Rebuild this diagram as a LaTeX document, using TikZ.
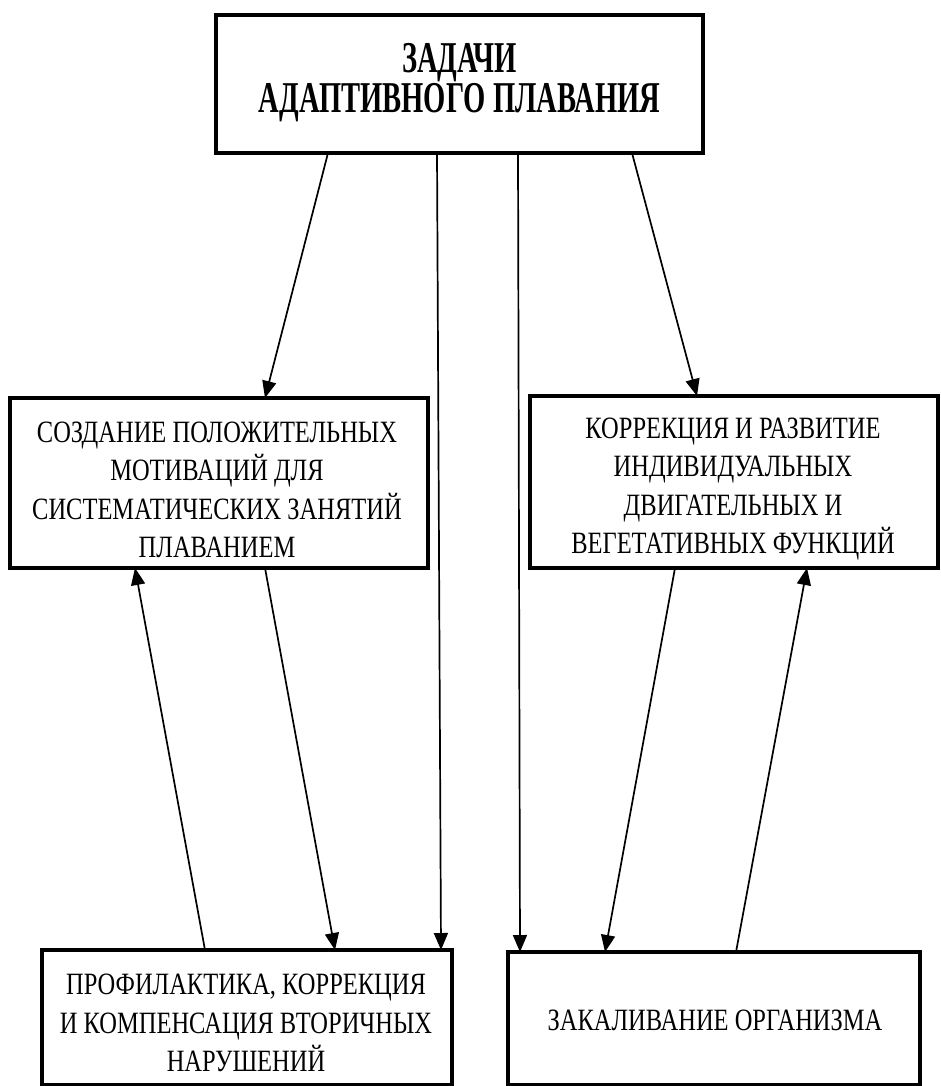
\documentclass[tikz,border=0pt]{standalone}
\usepackage{fontspec}
\setmainfont{Liberation Serif}
\newfontfamily\regfont[FakeStretch=0.79]{Liberation Serif}
\newfontfamily\topfont[FakeStretch=0.65]{Liberation Serif}
\usetikzlibrary{arrows.meta,calc}
\begin{document}
\begin{tikzpicture}[x=1pt,y=-1pt,
  box/.style={draw,line width=3.5pt,rectangle,inner sep=0pt,outer sep=0pt},
  txt/.style={align=center,inner sep=0pt,font=\regfont\fontsize{31}{38.3}\selectfont},
  toptxt/.style={align=center,inner sep=0pt,font=\topfont\bfseries\fontsize{44}{40}\selectfont},
  arr/.style={line width=1.7pt,-{Triangle[length=17pt,width=14pt]}},
  ln/.style={line width=1.7pt}]
\useasboundingbox (0,0) rectangle (940,1086);
\fill[white] (0,0) rectangle (940,1086);
% boxes
\node[box,minimum width=487pt,minimum height=138pt] (top) at (459.5,84) {};
\node[box,minimum width=418pt,minimum height=170pt] (ml) at (219,483) {};
\node[box,minimum width=408pt,minimum height=172pt] (mr) at (734,482) {};
\node[box,minimum width=410pt,minimum height=135pt] (bl) at (247,1017.5) {};
\node[box,minimum width=412pt,minimum height=133pt] (br) at (714,1018.5) {};
% texts
\node[toptxt] (toptext) at (459.5,83) {ЗАДАЧИ\\АДАПТИВНОГО ПЛАВАНИЯ};
\node[txt] (mltext) at (217,490) {СОЗДАНИЕ ПОЛОЖИТЕЛЬНЫХ\\МОТИВАЦИЙ ДЛЯ\\СИСТЕМАТИЧЕСКИХ ЗАНЯТИЙ\\ПЛАВАНИЕМ};
\node[txt] (mrtext) at (733,489) {КОРРЕКЦИЯ И РАЗВИТИЕ\\ИНДИВИДУАЛЬНЫХ\\ДВИГАТЕЛЬНЫХ И\\ВЕГЕТАТИВНЫХ ФУНКЦИЙ};
\node[txt] (bltext) at (246,1023) {ПРОФИЛАКТИКА, КОРРЕКЦИЯ\\И КОМПЕНСАЦИЯ ВТОРИЧНЫХ\\НАРУШЕНИЙ};
\node[txt] (brtext) at (715,1020) {ЗАКАЛИВАНИЕ ОРГАНИЗМА};
% connectors from the top box
\draw[arr] ($(top.south west)+(112,0)$) -- ($(ml.north west)+(255,0)$);
\draw[arr] ($(top.south west)+(221,0)$) -- ($(bl.north west)+(399,0)$);
\draw[arr] ($(top.south west)+(302,0)$) -- ($(br.north west)+(12,0)$);
\draw[arr] ($(top.south west)+(416,0)$) -- ($(mr.north west)+(167,0)$);
% left pair
\draw[arr] ($(ml.south west)+(255,0)$) -- ($(bl.north west)+(293,0)$);
\draw[arr] ($(bl.north west)+(163,0)$) -- ($(ml.south west)+(125,0)$);
% right pair
\draw[arr] ($(mr.south west)+(145,0)$) -- ($(br.north west)+(97,0)$);
\draw[arr] ($(br.north west)+(228,0)$) -- ($(mr.south west)+(277,0)$);
\end{tikzpicture}
\end{document}
